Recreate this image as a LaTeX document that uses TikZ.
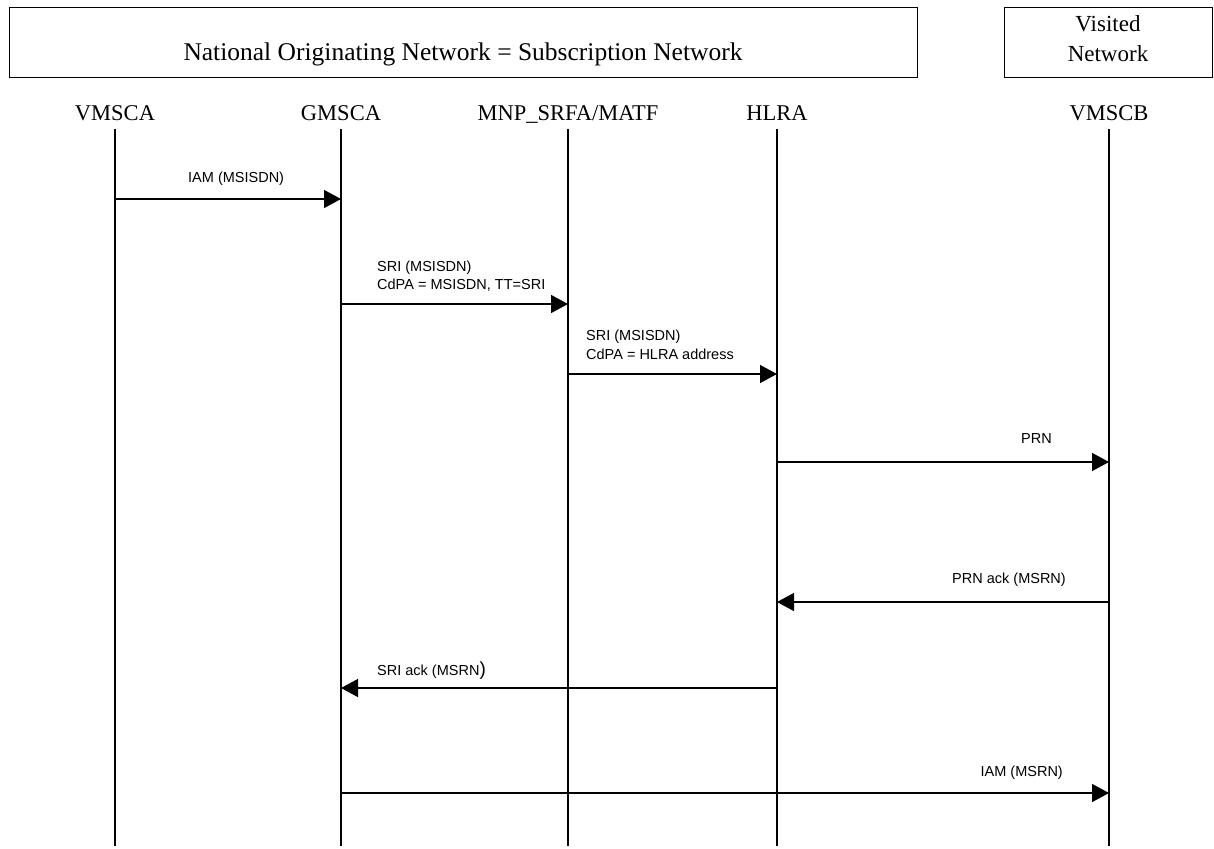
\documentclass[tikz,border=0pt]{standalone}
\usepackage{fontspec}
\setmainfont{Liberation Serif}
\newfontfamily\labfont{Liberation Sans}
\usetikzlibrary{arrows.meta}
\begin{document}
\begin{tikzpicture}[x=1pt,y=-1pt,
  lifeline/.style={line width=1.8pt},
  msg/.style={line width=1.4pt,-{Triangle[length=17pt,width=18pt]}},
  lbl/.style={font=\labfont\fontsize{14.5}{18}\selectfont, inner sep=0pt},
  ent/.style={font=\fontsize{22.5}{27}\selectfont, inner sep=0pt, anchor=base},
  hbox/.style={draw, line width=1.2pt, inner sep=0pt}]
\useasboundingbox (0,0) rectangle (1214,848);
% header boxes
\node[hbox, minimum width=908pt, minimum height=70pt, anchor=north west] (orignet) at (9,7) {};
\node[font=\fontsize{25.5}{30}\selectfont, inner sep=0pt, anchor=base] (origtext) at (463,61) {National Originating Network = Subscription Network};
\node[hbox, minimum width=208pt, minimum height=70pt, anchor=north west] (visnet) at (1004,7) {};
\node[font=\fontsize{23}{30}\selectfont, inner sep=0pt, anchor=base] (vistext1) at (1108,32) {Visited};
\node[font=\fontsize{23}{30}\selectfont, inner sep=0pt, anchor=base] (vistext2) at (1108,62) {Network};
% entities
\node[ent] (vmsca) at (115,121) {VMSCA};
\node[ent] (gmsca) at (341,121) {GMSCA};
\node[ent] (mnp) at (568,121) {MNP\_SRFA/MATF};
\node[ent] (hlra) at (777,121) {HLRA};
\node[ent] (vmscb) at (1109,121) {VMSCB};
% lifelines
\foreach \n/\x in {vmsca/115,gmsca/341,mnp/568,hlra/777,vmscb/1109}{
  \coordinate (\n top) at (\x,129);
  \coordinate (\n bot) at (\x,846);
  \draw[lifeline] (\n top) -- (\n bot);
}
% message endpoints
\coordinate (m1a) at (115,199); \coordinate (m1b) at (341,199);
\coordinate (m2a) at (341,304); \coordinate (m2b) at (568,304);
\coordinate (m3a) at (568,374); \coordinate (m3b) at (777,374);
\coordinate (m4a) at (777,462); \coordinate (m4b) at (1109,462);
\coordinate (m5a) at (1109,602); \coordinate (m5b) at (777,602);
\coordinate (m6a) at (777,688); \coordinate (m6b) at (341,688);
\coordinate (m7a) at (341,793); \coordinate (m7b) at (1109,793);
\draw[msg] (m1a) -- (m1b);
\draw[msg] (m2a) -- (m2b);
\draw[msg] (m3a) -- (m3b);
\draw[msg] (m4a) -- (m4b);
\draw[msg] (m5a) -- (m5b);
\draw[msg] (m6a) -- (m6b);
\draw[msg] (m7a) -- (m7b);
% labels
\node[lbl, anchor=base west] (l1) at (188,182) {IAM (MSISDN)};
\node[lbl, anchor=base west] (l2a) at (377,271) {SRI (MSISDN)};
\node[lbl, anchor=base west] (l2b) at (377,289) {CdPA = MSISDN, TT=SRI};
\node[lbl, anchor=base west] (l3a) at (586,340) {SRI (MSISDN)};
\node[lbl, anchor=base west] (l3b) at (586,359) {CdPA = HLRA address};
\node[lbl, anchor=base east] (l4) at (1052,443) {PRN};
\node[lbl, anchor=base east] (l5) at (1066,583) {PRN ack (MSRN)};
\node[lbl, anchor=base west] (l6) at (377,675) {SRI ack (MSRN{\fontsize{19}{19}\selectfont )}};
\node[lbl, anchor=base east] (l7) at (1063,776) {IAM (MSRN)};
\end{tikzpicture}
\end{document}
